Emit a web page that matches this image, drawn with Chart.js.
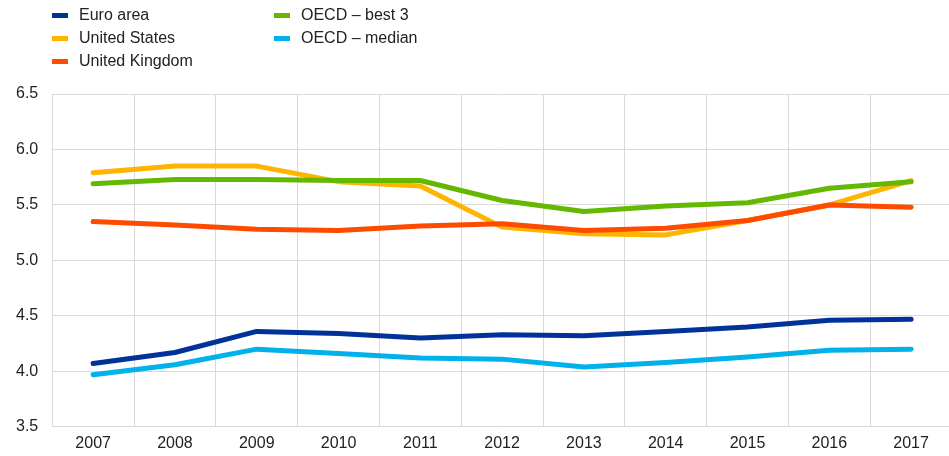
<!DOCTYPE html>
<html>
<head>
<meta charset="utf-8">
<script src="https://cdn.jsdelivr.net/npm/chart.js@4/dist/chart.umd.min.js"></script>
<style>
  html, body { margin: 0; padding: 0; background: #fff; overflow: hidden; }
  #wrap { position: relative; width: 952px; height: 456px; }
  #chart { position: absolute; left: 0; top: 0; }
  #legend { position: absolute; left: 52px; top: 5px; font-family: "Liberation Sans", Arial, sans-serif; font-size: 16px; color: #222; }
  .item { position: absolute; white-space: nowrap; display: flex; align-items: center; height: 20px; }
  .swatch { width: 16px; height: 5px; margin-right: 11px; }
</style>
</head>
<body>
<div id="wrap">
  <canvas id="chart" width="952" height="456"></canvas>
  <div id="legend"></div>
</div>
<script>
const years = ['2007','2008','2009','2010','2011','2012','2013','2014','2015','2016','2017'];
const euroArea      = [4.07, 4.17, 4.36, 4.34, 4.30, 4.33, 4.32, 4.36, 4.40, 4.46, 4.47];
const unitedStates  = [5.79, 5.85, 5.85, 5.71, 5.67, 5.30, 5.24, 5.23, 5.36, 5.50, 5.72];
const unitedKingdom = [5.35, 5.32, 5.28, 5.27, 5.31, 5.33, 5.27, 5.29, 5.36, 5.50, 5.48];
const oecdBest3     = [5.69, 5.73, 5.73, 5.72, 5.72, 5.54, 5.44, 5.49, 5.52, 5.65, 5.71];
const oecdMedian    = [3.97, 4.06, 4.20, 4.16, 4.12, 4.11, 4.04, 4.08, 4.13, 4.19, 4.20];
const yTicks = [3.5, 4.0, 4.5, 5.0, 5.5, 6.0, 6.5];

const series = [
  { label: 'Euro area',      data: euroArea,      color: '#003299', z: 5 },
  { label: 'United States',  data: unitedStates,  color: '#ffb400', z: 1 },
  { label: 'United Kingdom', data: unitedKingdom, color: '#ff4b00', z: 3 },
  { label: 'OECD – best 3',  data: oecdBest3,     color: '#65b800', z: 2 },
  { label: 'OECD – median',  data: oecdMedian,    color: '#00b1ea', z: 4 }
];

const font = { family: '"Liberation Sans", Arial, sans-serif', size: 16 };

const chart = new Chart(document.getElementById('chart'), {
  type: 'line',
  data: {
    labels: years,
    datasets: series.map(s => ({
      label: s.label,
      data: s.data,
      borderColor: s.color,
      backgroundColor: s.color,
      borderWidth: 5,
      borderCapStyle: 'round',
      borderJoinStyle: 'round',
      pointRadius: 0,
      tension: 0,
      order: 6 - s.z
    }))
  },
  options: {
    responsive: false,
    animation: false,
    layout: { padding: { top: 94, left: 2, right: 0, bottom: -4 } },
    plugins: { legend: { display: false }, tooltip: { enabled: false } },
    scales: {
      x: {
        offset: true,
        grid: { color: '#d9d9d9', lineWidth: 1, drawTicks: false, offset: true },
        border: { color: '#d9d9d9' },
        ticks: { color: '#222', font: font, padding: 7 }
      },
      y: {
        min: 3.5, max: 6.5,
        afterBuildTicks: axis => { axis.ticks = yTicks.map(v => ({ value: v })); },
        grid: { color: '#d9d9d9', lineWidth: 1, drawTicks: false },
        border: { color: '#d9d9d9' },
        ticks: { color: '#222', font: font, padding: 14, callback: v => Number(v).toFixed(1) }
      }
    }
  }
});

// Two-column legend, three rows in the first column
const legend = document.getElementById('legend');
const positions = [[0,0],[0,23],[0,46],[222,0],[222,23]];
series.forEach((s, i) => {
  const el = document.createElement('div');
  el.className = 'item';
  el.style.left = positions[i][0] + 'px';
  el.style.top = positions[i][1] + 'px';
  el.innerHTML = '<span class="swatch" style="background:' + s.color + '"></span><span>' + s.label + '</span>';
  legend.appendChild(el);
});
</script>
</body>
</html>
